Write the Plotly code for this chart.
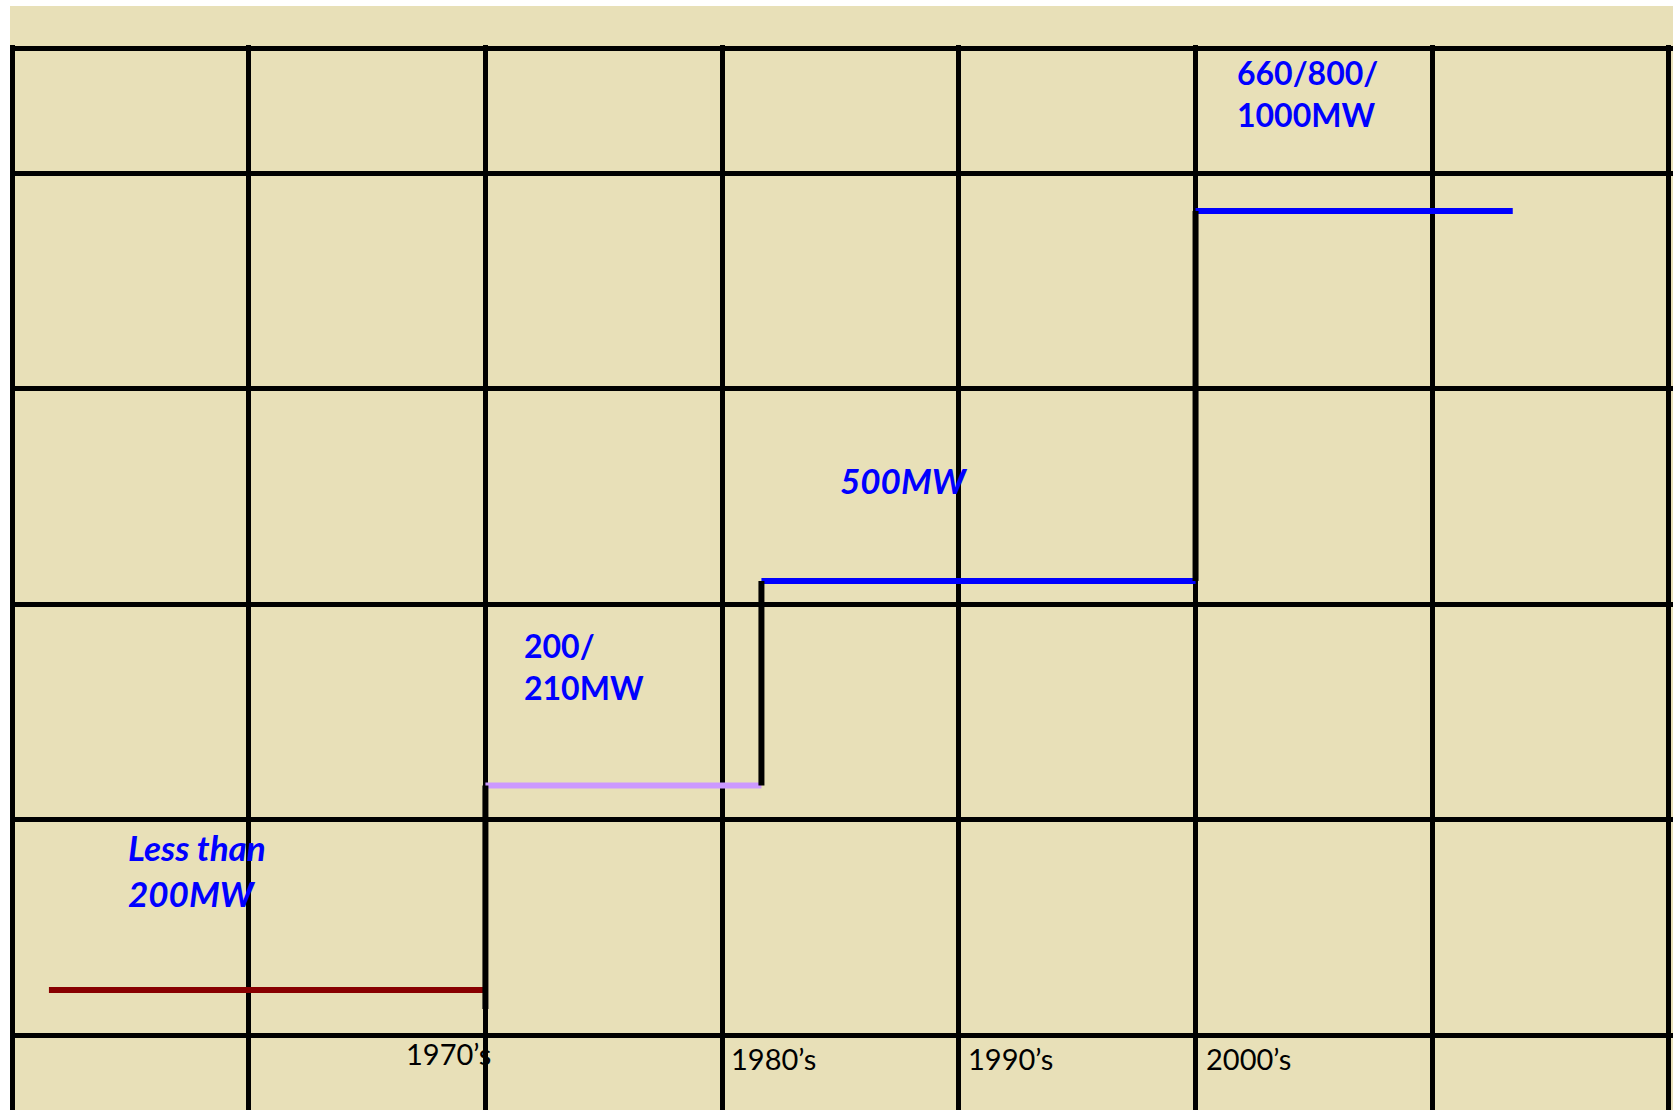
import plotly.graph_objects as go

# Grid: 7 equal columns, 4 equal rows plus a short header row and a label row
col_lines = [0, 1, 2, 3, 4, 5, 6, 7]
row_lines = [0, 1, 2, 3, 4, 4.58]

# Unit-size step: x break points (column units) and the level held between them
step_x = [0.156, 2.0, 3.166, 5.0, 6.34]
step_levels = [0.209, 1.158, 2.107, 3.824]
step_colors = ["#880000", "#CC99FF", "#0000FF", "#0000FF"]
riser_start = 0.121  # the first riser begins just below the first level

# Capacity labels (column units, row units); italic ones are set a little larger
cap_text = ["Less than<br>200MW", "200/<br>210MW", "500MW", "660/800/<br>1000MW"]
cap_italic = [True, False, True, False]
cap_x = [0.481, 2.155, 3.491, 5.165]
cap_y = [0.766, 1.708, 2.575, 4.371]

# Decade labels along the bottom row
decade_text = ["1970’s", "1980’s", "1990’s", "2000’s"]
decade_x = [1.657, 3.031, 4.032, 5.034]
decade_y = [-0.088, -0.111, -0.111, -0.111]

BG = "#E8E0B8"
W, H = 1673, 1110

fig = go.Figure()

# horizontal treads
for i, lvl in enumerate(step_levels):
    fig.add_trace(go.Scatter(
        x=[step_x[i], step_x[i + 1]], y=[lvl, lvl], mode="lines",
        line=dict(color=step_colors[i], width=6), hoverinfo="skip"))

# vertical risers between consecutive levels
for i in range(1, len(step_levels)):
    y0 = riser_start if i == 1 else step_levels[i - 1]
    fig.add_trace(go.Scatter(
        x=[step_x[i], step_x[i]], y=[y0, step_levels[i]], mode="lines",
        line=dict(color="black", width=6), hoverinfo="skip"))

for t, it, x, y in zip(cap_text, cap_italic, cap_x, cap_y):
    body = "<b><i>" + t + "</i></b>" if it else "<b>" + t + "</b>"
    fig.add_annotation(x=x, y=y, text=body, showarrow=False,
                       xanchor="left", yanchor="middle", align="left",
                       font=dict(family="Lato", size=35 if it else 32, color="#0000FF"))

for t, x, y in zip(decade_text, decade_x, decade_y):
    fig.add_annotation(x=x, y=y, text=t, showarrow=False,
                       xanchor="left", yanchor="middle", align="left",
                       font=dict(family="Lato", size=29, color="black"))

# white strips at the top and left page edges
plot_w = W - 10
plot_h = H - 45
fig.add_shape(type="rect", xref="paper", yref="paper", layer="above",
              x0=-10 / plot_w, x1=1.01, y0=1 + 39 / plot_h, y1=1 + 46 / plot_h,
              fillcolor="white", line_width=0)
fig.add_shape(type="rect", xref="paper", yref="paper", layer="above",
              x0=-11 / plot_w, x1=0, y0=-0.01, y1=1 + 46 / plot_h,
              fillcolor="white", line_width=0)

fig.update_layout(
    width=W, height=H,
    margin=dict(l=10, r=0, t=45, b=0),
    paper_bgcolor=BG, plot_bgcolor=BG,
    showlegend=False,
    xaxis=dict(range=[-0.00845, 7.017], tickvals=col_lines, showticklabels=False,
               showgrid=True, gridcolor="black", gridwidth=5, zeroline=False,
               ticks="", fixedrange=True),
    yaxis=dict(range=[-0.348, 4.594], tickvals=row_lines, showticklabels=False,
               showgrid=True, gridcolor="black", gridwidth=5, zeroline=False,
               ticks="", fixedrange=True),
)

fig.write_html("out.html", config={"displayModeBar": False})
